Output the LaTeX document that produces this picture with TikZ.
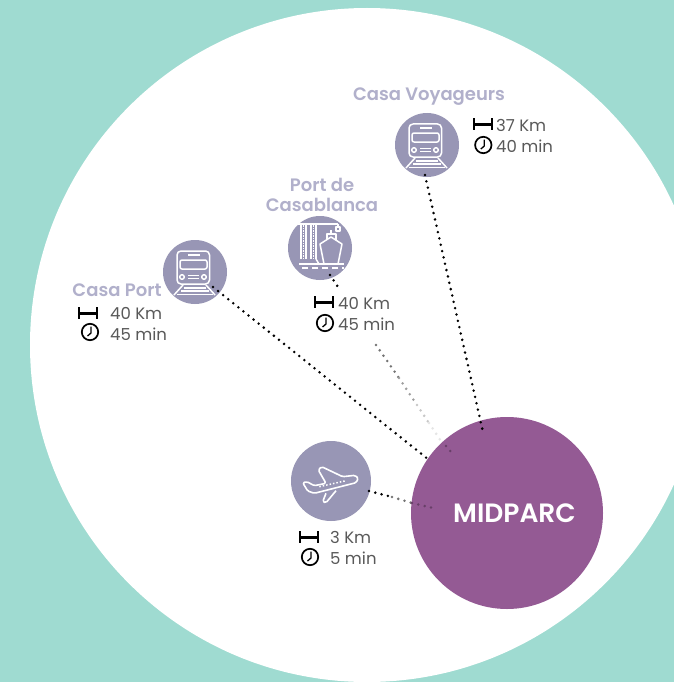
\documentclass[tikz,border=0pt]{standalone}
\usepackage{fontspec}
\setmainfont{Poppins}[BoldFont={Poppins SemiBold}]
\definecolor{teal0}{HTML}{9FDBD1}
\definecolor{stop}{HTML}{9896B5}
\definecolor{stoplabel}{HTML}{B1B0CB}
\definecolor{hub}{HTML}{945A94}
\definecolor{infotext}{HTML}{595959}
\tikzset{
  stopnode/.style={circle,fill=stop,inner sep=0pt,minimum size=64pt},
  stoplbl/.style={text=stoplabel,font=\fontsize{18}{20.5}\selectfont\bfseries,align=center,inner sep=0pt},
  info/.style={text=infotext,font=\fontsize{16.5}{20}\selectfont,anchor=west,inner sep=0pt},
  link/.style={line width=2.8pt,line cap=round,dash pattern=on 0pt off 6.5pt},
  icon/.style={white,line width=1.5pt,line join=round},
  pics/trainicon/.style={code={
    \draw[icon,rounded corners=4pt] (-18,12) -- (-18,-21) -- (14.5,-21) -- (14.5,12) -- cycle;
    \draw[icon,rounded corners=2pt] (-15,-3) rectangle (12,-12);
    \draw[icon] (-7,-17) -- (5,-17);
    \draw[icon] (-13,5) circle (2.3);
    \draw[icon] (9,5) circle (2.3);
    \draw[icon] (-7,3.5) -- (4,3.5) (-7,6.5) -- (4,6.5);
    \draw[icon] (-12,13) -- (-21,23) (11,13) -- (20,23);
    \draw[icon] (-11,16) -- (11,16) (-14,19) -- (14,19) (-18,22.5) -- (18,22.5);
  }},
  pics/shipicon/.style={code={
    \draw[icon] (-19,11) -- (-19,-24) (-14,11) -- (-14,-24) (-9,11) -- (-9,-24) (-4,11) -- (-4,-24);
    \draw[icon,densely dotted] (-16.5,11) -- (-16.5,-24) (-6.5,11) -- (-6.5,-24);
    \draw[icon] (-22,-24) -- (18,-24) (18,-24) -- (18,-21);
    \draw[icon] (16,-21) rectangle (20,-17);
    \draw[icon] (-4,11) -- (-1,16);
    \draw[icon] (0,-4) -- (11,-11) -- (22,-4) -- (18,16) -- (4,16) -- cycle;
    \draw[icon] (7,-8) -- (7,-14) -- (16,-14) -- (16,-8);
    \draw[icon] (11,-14) -- (11,-18);
    \draw[icon] (-21,16) -- (24,16);
    \draw[icon,dash pattern=on 6pt off 4pt] (-18,20) -- (24,20);
  }},
  pics/planeicon/.style={code={
    \draw[icon,line width=1.6pt,rounded corners=1.5pt] (-28.3,1.7) -- (-24,0.7) -- (-16.7,4.7) -- (-5,2.3) -- (-12.7,-11) -- (-9.3,-14.3) -- (11.7,-4.3) -- (24,-5.7) -- (27.3,-2.7) -- (25,1.7) -- (-16.7,12.3) -- (-23.3,10) -- cycle;
    \draw[icon,line width=1.6pt,rounded corners=1.5pt] (5,9.7) -- (-5,21.7) -- (-8.3,20.7) -- (-5,12.3);
    \draw[icon,dotted] (-11.7,5.7) -- (15,-0.3);
  }},
  pics/distance/.style={code={
    \draw[black,line width=2.4pt] (-9,-6) -- (-9,6) (9,-6) -- (9,6);
    \draw[black,line width=3pt] (-9,0) -- (9,0);
  }},
  pics/clockicon/.style={code={
    \draw[black,line width=1.7pt] (0,0) circle (8.2);
    \draw[black,line width=1.3pt] (1,-5.5) -- (1,1) -- (-2.5,4);
  }},
}
\begin{document}
\begin{tikzpicture}[x=1pt,y=-1pt]
  \useasboundingbox (0,0) rectangle (674,682);
  \fill[teal0] (0,0) rectangle (674,682);
  \begin{scope}
    \clip (0,0) rectangle (674,682);
    \fill[white] (367,345) circle (337);
  \end{scope}

  % stops
  \node[stopnode] (voyageurs) at (427,145) {};
  \node[stopnode] (port) at (320,248) {};
  \node[stopnode] (casaport) at (195,272) {};
  \node[stopnode,minimum size=80pt] (plane) at (331,481) {};
  \node[circle,fill=hub,inner sep=0pt,minimum size=192pt] (midparc) at (507,513) {};
  \node[text=white,font=\fontsize{26.5}{30}\selectfont\bfseries,inner sep=0pt] (hublabel) at (514.5,513) {MIDPARC};

  \pic at (voyageurs) {trainicon};
  \pic at (casaport) {trainicon};
  \pic at (port) {shipicon};
  \pic at (plane) {planeicon};

  % link ends
  \coordinate (endvoy) at (483,432);
  \coordinate (endcasa) at (429,460);
  \coordinate (startvoy) at (425,175);
  \coordinate (startcasa) at (213,287);
  \coordinate (startport) at (330,275);
  \coordinate (stopport) at (340,290);
  \coordinate (gapport) at (376,345);
  \coordinate (fadea) at (399,378);
  \coordinate (fadeb) at (417,405);
  \coordinate (fadec) at (429,423);
  \coordinate (faded) at (441,441);
  \coordinate (fadee) at (446,446);
  \coordinate (endport) at (451,452);
  \coordinate (startplane) at (369,491);
  \coordinate (planea) at (392,497);
  \coordinate (planeb) at (412,503);
  \coordinate (endplane) at (433,508);

  \draw[link] (startvoy) -- (endvoy);
  \draw[link] (startcasa) -- (endcasa);
  \draw[link] (startport) -- (stopport);
  \draw[link,black!55] (gapport) -- (fadea);
  \draw[link,black!38] (fadea) -- (fadeb);
  \draw[link,black!22] (fadeb) -- (fadec);
  \draw[link,black!10] (fadec) -- (faded);
  \draw[link,hub!70!black] (fadee) -- (endport);
  \draw[link] (startplane) -- (planea);
  \draw[link,black!55] (planea) -- (planeb);
  \draw[link,hub!70!black] (planeb) -- (endplane);

  % labels
  \node[stoplbl] (voylabel) at (429,97) {Casa Voyageurs};
  \node[stoplbl] (portlabel) at (322,195) {Port de\\Casablanca};
  \node[stoplbl] (casalabel) at (117,290) {Casa Port};

  \pic at (482.7,124.3) {distance};
  \pic at (483.3,145) {clockicon};
  \node[info] (voykm) at (496,125) {37 Km};
  \node[info] (voymin) at (496,146) {40 min};

  \pic at (324,302) {distance};
  \pic at (325,323) {clockicon};
  \node[info] (portkm) at (338,303) {40 Km};
  \node[info] (portmin) at (338,324) {45 min};

  \pic at (88,313) {distance};
  \pic at (90,332) {clockicon};
  \node[info] (casakm) at (110,313) {40 Km};
  \node[info] (casamin) at (110,334) {45 min};

  \pic at (309,537) {distance};
  \pic at (310,557) {clockicon};
  \node[info] (planekm) at (330,537) {3 Km};
  \node[info] (planemin) at (330,558) {5 min};
\end{tikzpicture}
\end{document}
